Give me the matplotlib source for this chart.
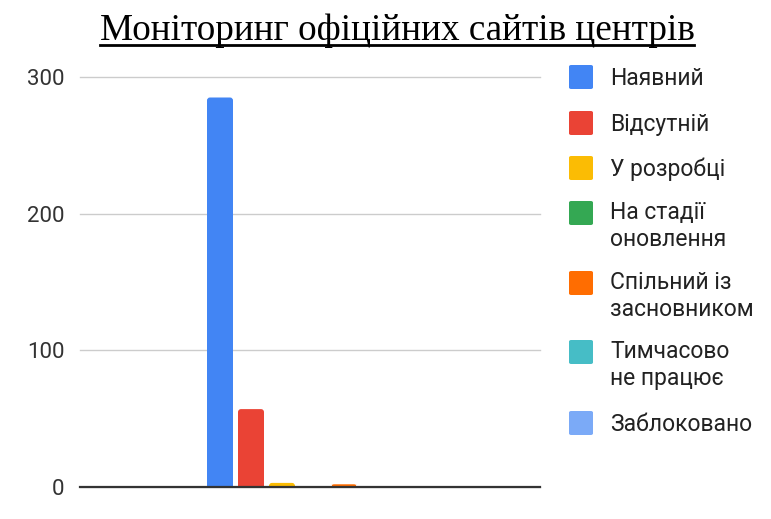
import matplotlib
matplotlib.use("Agg")
import matplotlib.pyplot as plt
from matplotlib.patches import FancyBboxPatch
from matplotlib.lines import Line2D

title = "Моніторинг офіційних сайтів центрів"
series = ["Наявний", "Відсутній", "У розробці", "На стадії\nоновлення",
          "Спільний із\nзасновником", "Тимчасово\nне працює", "Заблоковано"]
values = [285, 57, 3, 0, 2, 0, 0]
colors = ["#4285f4", "#ea4335", "#fbbc04", "#34a853", "#ff6d01", "#46bdc6", "#7baaf7"]
yticks = [0, 100, 200, 300]

W, H = 771, 519
fig = plt.figure(figsize=(W / 100, H / 100), dpi=100)
ax = fig.add_axes([80 / W, (H - 487) / H, 460 / W, (487 - 77) / H])

ax.set_xlim(-1, 1)
ax.set_ylim(0, 300)

step = 31 / 230
bw = 26 / 230
center = 3 / 230
xs = [center + (i - 3) * step for i in range(len(values))]
bars = ax.bar(xs, values, width=bw, color=colors, zorder=3)

# rounded tops (about 3 px radius)
px_x = 2 / 460
px_y = 300 / 410
aspect = px_y / px_x
for rect, c in zip(bars, colors):
    h = rect.get_height()
    if h <= 0:
        continue
    x0 = rect.get_x()
    w = rect.get_width()
    p = FancyBboxPatch((x0, 0), w, h,
                       boxstyle=f"round,pad=0,rounding_size={3 * px_x}",
                       mutation_aspect=aspect, facecolor=c, edgecolor="none",
                       zorder=3)
    ax.add_patch(p)
    rect.set_height(h / 2)

ax.set_yticks(yticks)
ax.set_yticklabels([str(t) for t in yticks], fontsize=16, color="#333333",
                   family=["Roboto", "DejaVu Sans"])
ax.tick_params(axis="y", length=0, pad=11)
ax.set_xticks([])
ax.grid(axis="y", color="#cccccc", linewidth=1, zorder=0, clip_on=False)
for s in ["top", "right", "left"]:
    ax.spines[s].set_visible(False)
ax.spines["bottom"].set_color("#333333")
ax.spines["bottom"].set_linewidth(1.6)
ax.spines["bottom"].set_zorder(4)

# title with underline
t = fig.text(397 / W, 1 - 40 / H, title, ha="center", va="baseline", fontsize=26.7,
             family=["Liberation Serif", "DejaVu Serif"], color="#000000")
fig.canvas.draw()
bb = t.get_window_extent(renderer=fig.canvas.get_renderer())
uy = 1 - 45 / H
fig.add_artist(Line2D([bb.x0 / W, bb.x1 / W], [uy, uy], color="#000000",
                      linewidth=2, transform=fig.transFigure))

# legend
ys = [77, 123, 168, 213, 283, 352, 423]
line_px = 25
for lab, c, y in zip(series, colors, ys):
    sq = 24
    fig.add_artist(FancyBboxPatch((569 / W, 1 - (y + sq / 2) / H), sq / W, sq / H,
                                  boxstyle="round,pad=0,rounding_size=0.003",
                                  facecolor=c, edgecolor="none",
                                  transform=fig.transFigure))
    n = lab.count("\n")
    fig.text(610 / W, 1 - (y + 8 + n * line_px) / H, lab, ha="left", va="baseline",
             fontsize=16.5, color="#222222", linespacing=1.22,
             family=["Roboto", "DejaVu Sans"])

fig.savefig("out.png", dpi=100)
